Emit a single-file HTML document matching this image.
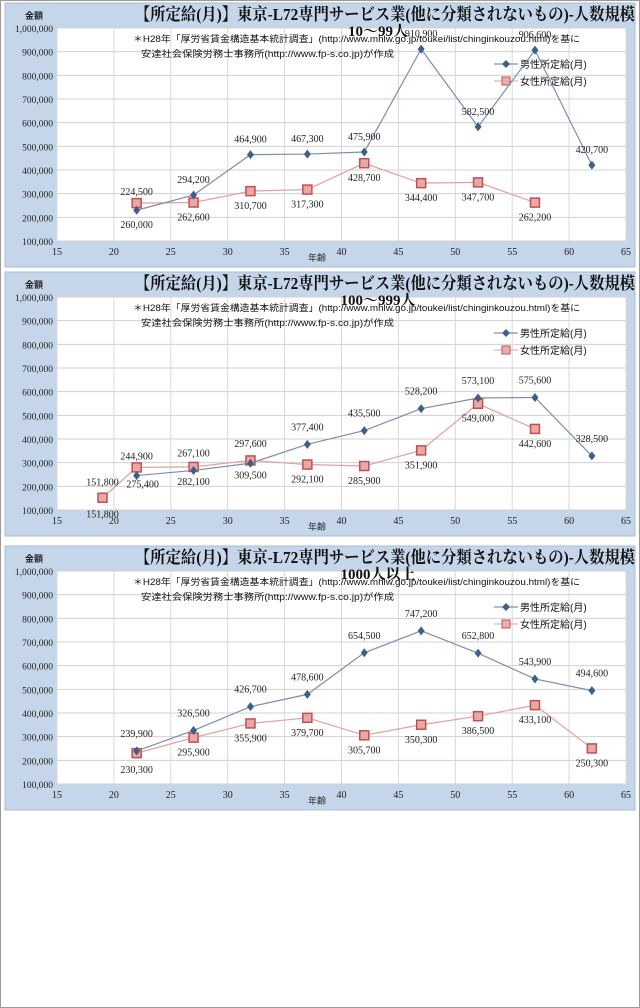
<!DOCTYPE html>
<html><head><meta charset="utf-8">
<style>
html,body{margin:0;padding:0;background:#fff;}
body{width:640px;height:1008px;position:relative;overflow:hidden;}
#frame{position:absolute;left:0;top:0;width:638px;height:1006px;border:1px solid #9a9a9a;}
svg{position:absolute;left:0;top:0;}
</style></head>
<body>
<div id="frame"></div>
<svg id="s" width="640" height="1008" xmlns="http://www.w3.org/2000/svg"></svg>
<script>
const NS="http://www.w3.org/2000/svg";
const s=document.getElementById('s');
function el(t,a,txt){const e=document.createElementNS(NS,t);for(const k in a)e.setAttribute(k,a[k]);if(txt!==undefined)e.textContent=txt;s.appendChild(e);return e;}
const charts=[
 {top:3,sub:"10～99人",
  m:[[22,230000,'260,000',18],[27,294200,'294,200',-12],[32,464900,'464,900',-12],[37,467300,'467,300',-12],[42,475900,'475,900',-12],[47,910900,'910,900',-12],[52,582500,'582,500',-12],[57,906600,'906,600',-12],[62,420700,'420,700',-12]],
  f:[[22,260000,'224,500',-8],[27,262600,'262,600',18],[32,310700,'310,700',18],[37,317300,'317,300',18],[42,428700,'428,700',18],[47,344400,'344,400',18],[52,347700,'347,700',18],[57,262200,'262,200',18]]},
 {top:272,sub:"100～999人",
  m:[[22,245400,'275,400',12,6],[27,267100,'267,100',-14],[32,297600,'297,600',-16],[37,377400,'377,400',-14],[42,435500,'435,500',-14],[47,528200,'528,200',-14],[52,573100,'573,100',-14],[57,575600,'575,600',-14],[62,328500,'328,500',-14]],
  f:[[19,151800,'151,800',-12],[22,280000,'244,900',-8],[27,282100,'282,100',18],[32,309500,'309,500',18],[37,292100,'292,100',18],[42,285900,'285,900',18],[47,351900,'351,900',18],[52,549000,'549,000',18],[57,442600,'442,600',18]],
  extra:[[19,151800,'151,800',20]]},
 {top:546,sub:"1000人以上",
  m:[[22,239900,'239,900',-14],[27,326500,'326,500',-14],[32,426700,'426,700',-14],[37,478600,'478,600',-14],[42,654500,'654,500',-14],[47,747200,'747,200',-14],[52,652800,'652,800',-14],[57,543900,'543,900',-14],[62,494600,'494,600',-14]],
  f:[[22,230300,'230,300',20],[27,295900,'295,900',18],[32,355900,'355,900',18],[37,379700,'379,700',18],[42,305700,'305,700',18],[47,350300,'350,300',18],[52,386500,'386,500',18],[57,433100,'433,100',18],[62,250300,'250,300',18]]}
];
const X=v=>57+(v-15)*11.38;
charts.forEach(c=>{
 const T=c.top, y0=T+25, y1=T+238;
 const Y=v=>y1-(v-100000)/900000*(y1-y0);
 el('rect',{x:5,y:T,width:630,height:264,fill:'#c6d6ea',stroke:'#a8bcd4'});
 el('rect',{x:57,y:y0,width:569,height:y1-y0,fill:'#fff'});
 for(let v=100000;v<=1000000;v+=100000){el('line',{x1:57,x2:626,y1:Y(v),y2:Y(v),stroke:'#d0d0d0','stroke-width':1});
  el('text',{x:53,y:Y(v)+4,'text-anchor':'end','font-family':'Liberation Serif, serif','font-size':9.5,fill:'#222'},v.toLocaleString('en-US'));}
 for(let v=15;v<=65;v+=5){el('line',{x1:X(v),x2:X(v),y1:y0,y2:y1,stroke:'#d8d8d8'});
  el('text',{x:X(v),y:y1+14,'text-anchor':'middle','font-family':'Liberation Serif, serif','font-size':10,fill:'#222'},v);}
 el('text',{x:34,y:T+16,'text-anchor':'middle','font-family':'Liberation Sans, Noto Sans CJK JP, sans-serif','font-size':9,'font-weight':'bold',fill:'#222'},'金額');
 el('text',{x:317,y:y1+20,'text-anchor':'middle','font-family':'Liberation Sans, Noto Sans CJK JP, sans-serif','font-size':9,fill:'#222'},'年齢');
 el('text',{x:635,y:T+17,'text-anchor':'end','font-family':'Liberation Serif, Noto Serif CJK SC, serif','font-size':17,'font-weight':'bold',fill:'#111',textLength:500,lengthAdjust:'spacingAndGlyphs'},'【所定給(月)】東京-L72専門サービス業(他に分類されないもの)-人数規模');
 el('text',{x:378,y:T+33,'text-anchor':'middle','font-family':'Liberation Serif, Noto Serif CJK SC, serif','font-size':15,'font-weight':'bold',fill:'#111'},c.sub);
 el('text',{x:133,y:T+39,'font-family':'Liberation Sans, Noto Sans CJK JP, sans-serif','font-size':9,fill:'#111',textLength:447,lengthAdjust:'spacingAndGlyphs'},'＊H28年「厚労省賃金構造基本統計調査」(http://www.mhlw.go.jp/toukei/list/chinginkouzou.html)を基に');
 el('text',{x:141,y:T+54,'font-family':'Liberation Sans, Noto Sans CJK JP, sans-serif','font-size':9,fill:'#111',textLength:253,lengthAdjust:'spacingAndGlyphs'},'安達社会保険労務士事務所(http://www.fp-s.co.jp)が作成');
 const ly=T+61;
 el('line',{x1:494,x2:518,y1:ly,y2:ly,stroke:'#5a7aa8'});
 el('path',{d:`M506 ${ly-4}L510 ${ly}L506 ${ly+4}L502 ${ly}Z`,fill:'#3e5f8a'});
 el('text',{x:520,y:ly+4,'font-family':'Liberation Sans, Noto Sans CJK JP, sans-serif','font-size':10,fill:'#111'},'男性所定給(月)');
 el('line',{x1:494,x2:518,y1:ly+17,y2:ly+17,stroke:'#e0a0a0'});
 el('rect',{x:502,y:ly+13,width:8,height:8,fill:'#e8b0b0',stroke:'#c05050'});
 el('text',{x:520,y:ly+21,'font-family':'Liberation Sans, Noto Sans CJK JP, sans-serif','font-size':10,fill:'#111'},'女性所定給(月)');
 el('polyline',{points:c.f.map(p=>X(p[0])+','+Y(p[1])).join(' '),fill:'none',stroke:'#e0a0a0','stroke-width':1.2});
 el('polyline',{points:c.m.map(p=>X(p[0])+','+Y(p[1])).join(' '),fill:'none',stroke:'#7a8fb0','stroke-width':1.2});
 c.f.forEach(p=>{const x=X(p[0]),y=Y(p[1]);el('rect',{x:x-4.5,y:y-4.5,width:9,height:9,fill:'#e8a8a8',stroke:'#c05050','stroke-width':1.5});});
 c.m.forEach(p=>{const x=X(p[0]),y=Y(p[1]);el('path',{d:`M${x} ${y-4.5}L${x+3.5} ${y}L${x} ${y+4.5}L${x-3.5} ${y}Z`,fill:'#3e5f8a'});});
 const lab=(p)=>el('text',{x:X(p[0])+(p[4]||0),y:Y(p[1])+p[3],'text-anchor':'middle','font-family':'Liberation Serif, serif','font-size':10,fill:'#222'},p[2]);
 c.m.forEach(lab);c.f.forEach(lab);(c.extra||[]).forEach(lab);
});
</script>
</body></html>
